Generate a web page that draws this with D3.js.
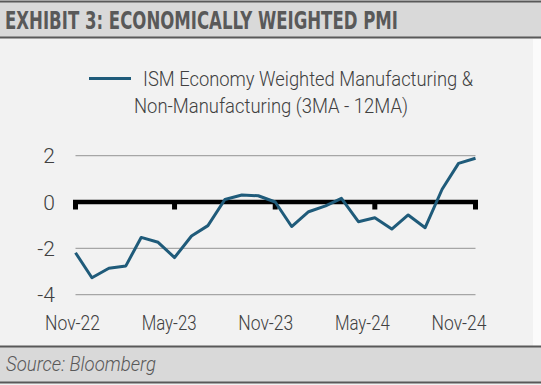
<!DOCTYPE html>
<html>
<head>
<meta charset="utf-8">
<script src="https://cdn.jsdelivr.net/npm/d3@7"></script>
<style>
  html, body { margin: 0; padding: 0; background: #ffffff; }
  svg text { font-family: "Roboto", "DejaVu Sans Condensed", sans-serif; font-weight: 300; }
  svg text.title { font-family: "DejaVu Sans Condensed", "Roboto", sans-serif; font-weight: bold; }
</style>
</head>
<body>
<div id="chart"></div>
<script>
// monthly values, Nov-22 .. Nov-24
const months = ["2022-11","2022-12","2023-01","2023-02","2023-03","2023-04","2023-05","2023-06",
  "2023-07","2023-08","2023-09","2023-10","2023-11","2023-12","2024-01","2024-02","2024-03",
  "2024-04","2024-05","2024-06","2024-07","2024-08","2024-09","2024-10","2024-11"];
const values = [-2.19, -3.27, -2.86, -2.76, -1.53, -1.74, -2.40, -1.47, -1.02, 0.11, 0.30, 0.27,
  0.00, -1.06, -0.42, -0.17, 0.16, -0.85, -0.68, -1.17, -0.56, -1.11, 0.55, 1.67, 1.89];
const yTicks = [2, 0, -2, -4];
const xTickLabels = ["Nov-22", "May-23", "Nov-23", "May-24", "Nov-24"];
const seriesName = ["ISM Economy Weighted Manufacturing &", "Non-Manufacturing (3MA - 12MA)"];

const W = 541, H = 385;
const parse = d3.timeParse("%Y-%m");
const data = months.map((m, i) => ({ date: parse(m), value: values[i] }));

const svg = d3.select("#chart").append("svg")
  .attr("width", W).attr("height", H);

// panel backgrounds
svg.append("rect").attr("x", 0).attr("y", 0).attr("width", W).attr("height", H).attr("fill", "#f2f2f2");
svg.append("rect").attr("x", 0).attr("y", 1).attr("width", W).attr("height", 37).attr("fill", "#d9d9d9");
svg.append("rect").attr("x", 0).attr("y", 346).attr("width", W).attr("height", 37).attr("fill", "#d9d9d9");
svg.append("rect").attr("x", 533).attr("y", 39).attr("width", 8).attr("height", 307).attr("fill", "#fbfbfb");
[1.5, 37.5, 346.5, 382.5].forEach(yy => {
  svg.append("line").attr("x1", 0).attr("x2", W).attr("y1", yy).attr("y2", yy)
    .attr("stroke", "#595959").attr("stroke-width", 2);
});

// title + source
svg.append("text").attr("class", "title").attr("x", 5).attr("y", 29)
  .attr("textLength", 393).attr("lengthAdjust", "spacingAndGlyphs")
  .style("font-size", "25px").style("fill", "#595959")
  .text("EXHIBIT 3: ECONOMICALLY WEIGHTED PMI");
svg.append("text").attr("x", 6).attr("y", 371)
  .attr("textLength", 150).attr("lengthAdjust", "spacingAndGlyphs")
  .style("font-size", "20px").style("font-style", "italic").style("fill", "#595959")
  .text("Source: Bloomberg");

// scales
const x = d3.scaleTime().domain(d3.extent(data, d => d.date)).range([75.5, 475.5]);
const y = d3.scaleLinear().domain([-4, 2]).range([294.6, 155.7]);
const labelX = d3.scalePoint().domain(xTickLabels).range([72.5, 459]);

// gridlines
svg.append("g").selectAll("line")
  .data(yTicks.filter(t => t !== 0))
  .enter().append("line")
  .attr("x1", x.range()[0]).attr("x2", x.range()[1])
  .attr("y1", d => y(d)).attr("y2", d => y(d))
  .attr("stroke", "#a6a6a6").attr("stroke-width", 1.2);

// y labels
svg.append("g").selectAll("text")
  .data(yTicks)
  .enter().append("text")
  .attr("x", 55).attr("y", d => y(d) + 7.5)
  .attr("text-anchor", "end")
  .style("font-size", "21px").style("fill", "#404040")
  .text(d => d);

// zero axis with ticks
const tickDates = xTickLabels.map(s => d3.timeParse("%b-%y")(s));
svg.append("line")
  .attr("x1", x.range()[0] - 2.5).attr("x2", x.range()[1] + 2.5)
  .attr("y1", y(0)).attr("y2", y(0))
  .attr("stroke", "#000").attr("stroke-width", 4.5);
svg.append("g").selectAll("rect")
  .data(tickDates)
  .enter().append("rect")
  .attr("x", d => x(d) - 2.5).attr("y", y(0))
  .attr("width", 5).attr("height", 7.5)
  .attr("fill", "#000");

// x labels
svg.append("g").selectAll("text")
  .data(xTickLabels)
  .enter().append("text")
  .attr("x", d => labelX(d) - 27.5).attr("y", 330)
  .attr("textLength", 55).attr("lengthAdjust", "spacingAndGlyphs")
  .style("font-size", "21px").style("fill", "#404040")
  .text(d => d);

// series line
const line = d3.line().x(d => x(d.date)).y(d => y(d.value));
svg.append("path").datum(data)
  .attr("d", line)
  .attr("fill", "none")
  .attr("stroke", "#1f5b7a")
  .attr("stroke-width", 3)
  .attr("stroke-linejoin", "round");

// legend
svg.append("line").attr("x1", 89).attr("x2", 131).attr("y1", 78.5).attr("y2", 78.5)
  .attr("stroke", "#1f5b7a").attr("stroke-width", 3);
svg.append("text").attr("x", 143).attr("y", 86)
  .attr("textLength", 330).attr("lengthAdjust", "spacingAndGlyphs")
  .style("font-size", "20px").style("fill", "#404040")
  .text(seriesName[0]);
svg.append("text").attr("x", 134).attr("y", 112.5)
  .attr("textLength", 274).attr("lengthAdjust", "spacingAndGlyphs")
  .style("font-size", "20px").style("fill", "#404040")
  .text(seriesName[1]);
</script>
</body>
</html>
